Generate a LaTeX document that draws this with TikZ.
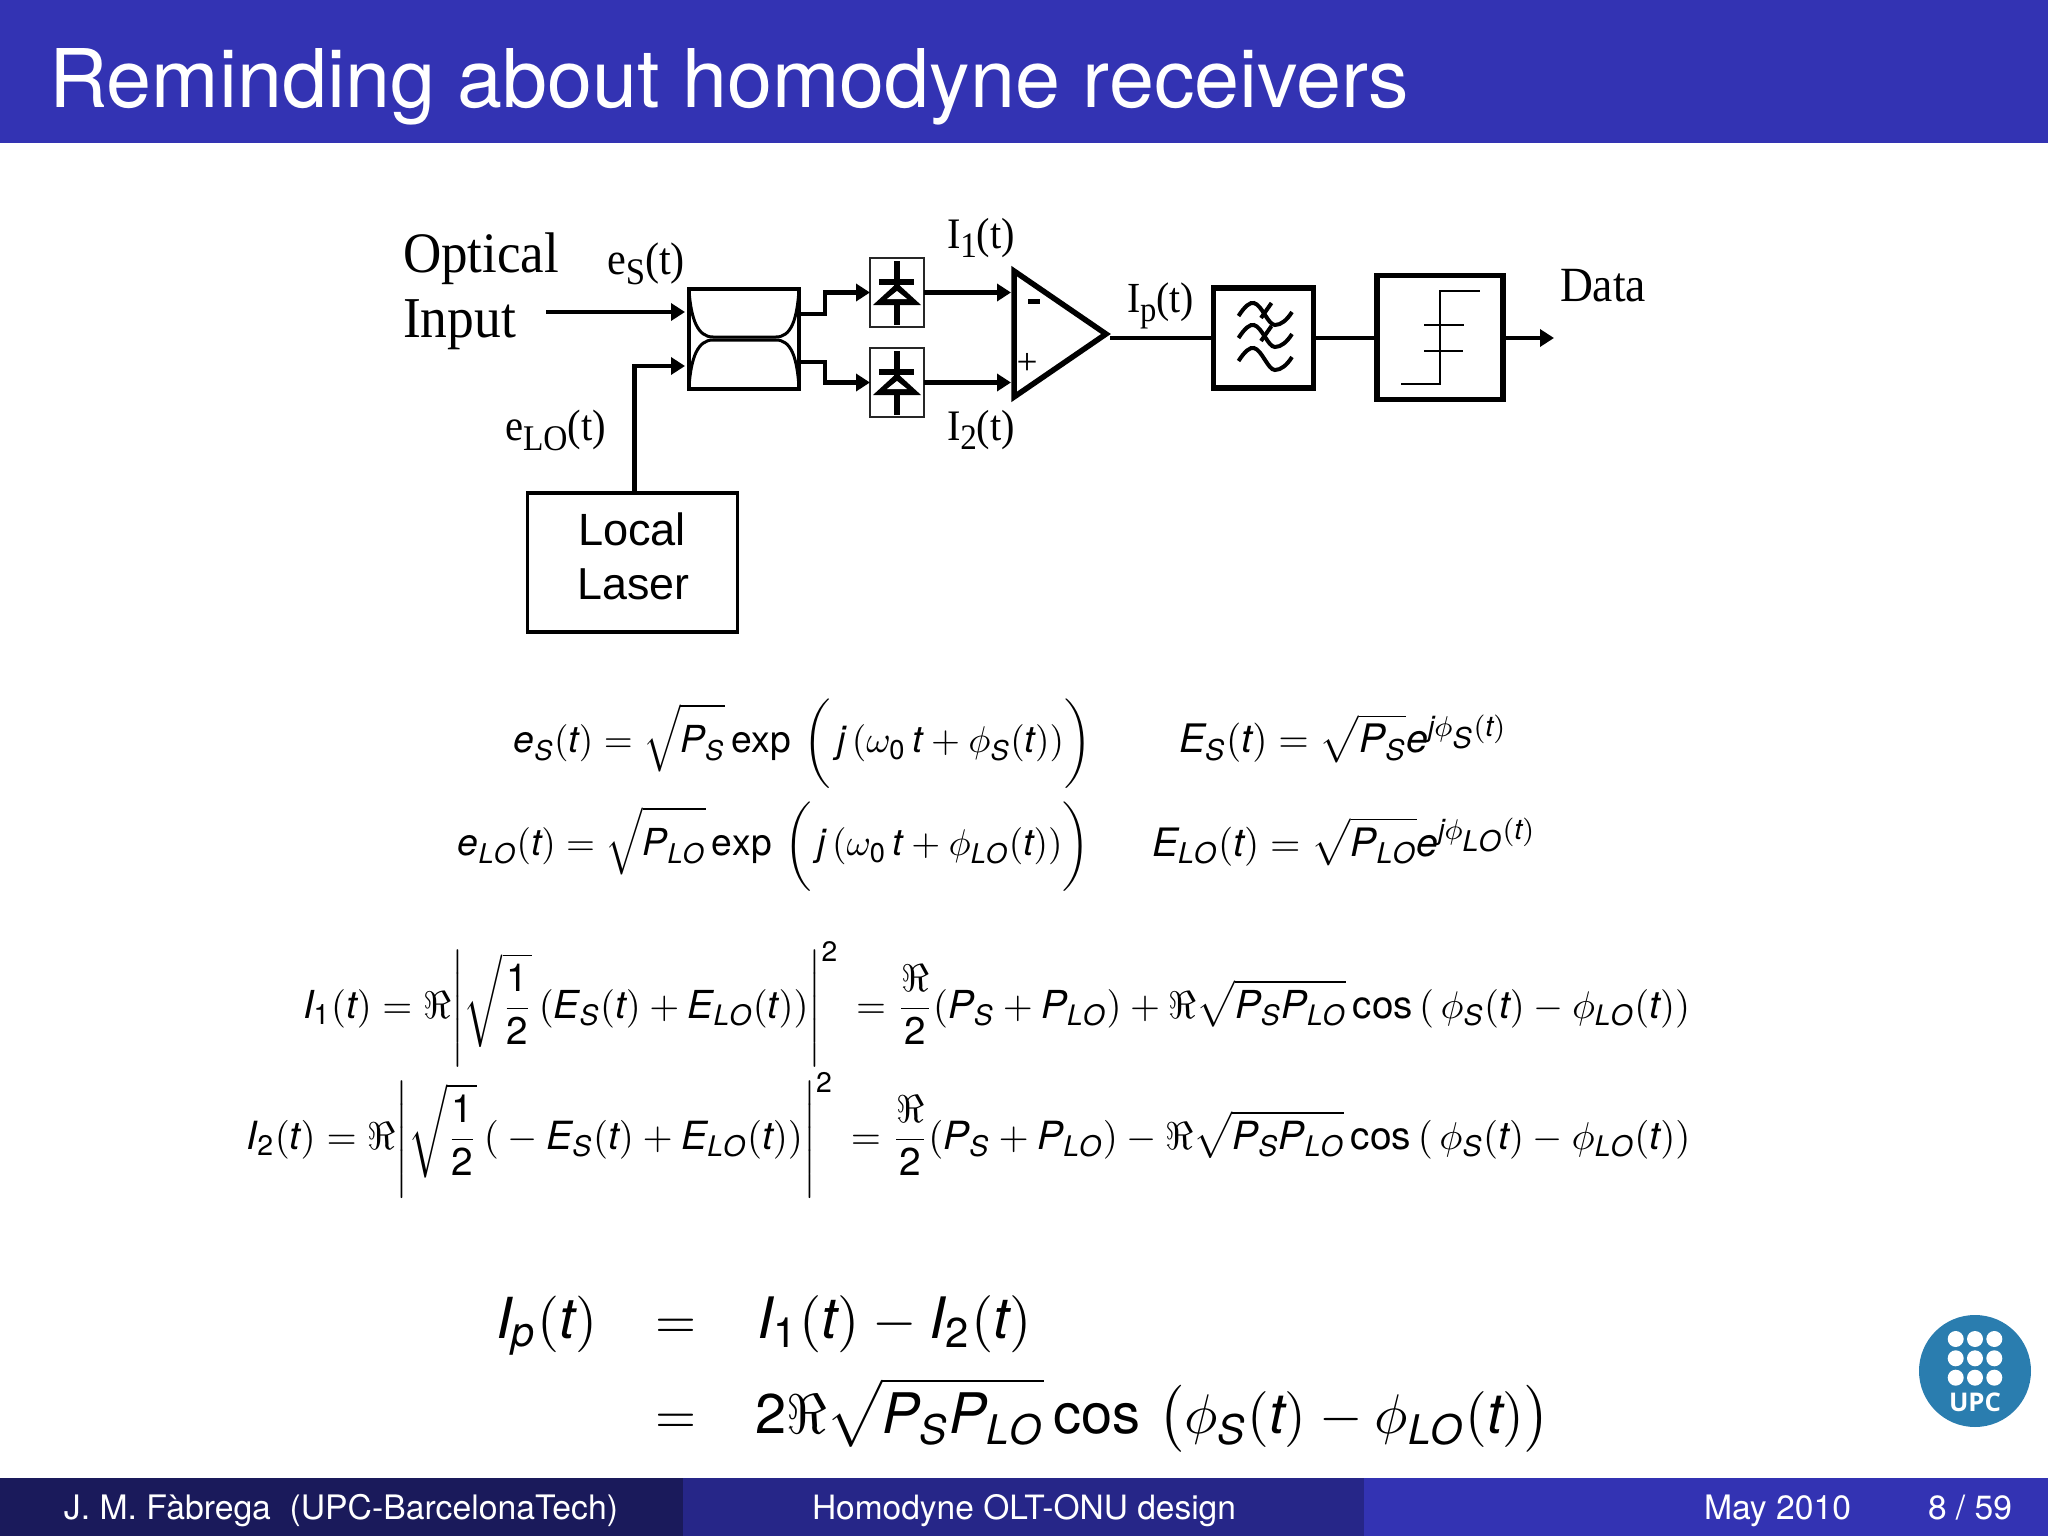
\documentclass[tikz,border=0pt,11pt]{standalone}
\usepackage{amsmath}
\usepackage[no-math]{fontspec}
\usepackage{graphicx}
\usetikzlibrary{arrows.meta}
\setmainfont{TeX Gyre Heros}
\newfontfamily\serifdiag{Liberation Serif}
\newfontfamily\diagsans{Liberation Sans}
\newfontfamily\upcfont{Open Sans}
\newfontfamily\heroshv[NFSSFamily=heros]{TeX Gyre Heros}
\DeclareSymbolFont{hvit}{TU}{heros}{m}{it}
\DeclareSymbolFont{hvup}{TU}{heros}{m}{n}
\DeclareMathAlphabet{\mathhv}{TU}{heros}{m}{n}
\def\setit#1{\DeclareMathSymbol{#1}{\mathalpha}{hvit}{`#1}}
\def\setup#1{\DeclareMathSymbol{#1}{\mathalpha}{hvup}{`#1}}
\setit e \setit S \setit t \setit P \setit j \setit E \setit L \setit O \setit I \setit p
\setup 0 \setup 1 \setup 2
\newcommand{\opcos}{\mathop{\mathhv{cos}}\nolimits}
\newcommand{\opexp}{\mathop{\mathhv{exp}}\nolimits}
\newcommand{\tallsq}{\rule[-0.42em]{0pt}{1.42em}}
\newdimen\pxd \pxd=0.0625mm
\def\pxu{0.0625mm}
\newcommand{\fitw}[2]{\resizebox{#1\pxd}{!}{#2}}
\newcommand{\fitwy}[2]{\scalebox{1}[1.08]{\resizebox{#1\pxd}{!}{#2}}}
\newcommand{\subser}[1]{\raisebox{-0.5ex}{\footnotesize #1}}
\definecolor{barblue}{HTML}{3333B3}
\definecolor{footdark}{HTML}{1A1A5B}
\definecolor{footmid}{HTML}{262688}
\definecolor{upcblue}{HTML}{2A7DAF}
\tikzset{
  txt/.style={anchor=base west,inner sep=0pt,outer sep=0pt},
  wtxt/.style={txt,text=white},
  wire/.style={line width=4.4*\pxu,draw=black,-{Triangle[length=14*\pxu,width=17*\pxu]}},
  plainwire/.style={line width=4.4*\pxu,draw=black},
  blockbox/.style={draw=black,rectangle,inner sep=0pt,outer sep=0pt},
  thinline/.style={line width=2.8*\pxu,draw=black},
}
\begin{document}
\begin{tikzpicture}[x=0.0625mm,y=-0.0625mm]
\useasboundingbox (0,0) rectangle (2048,1536);
\fill[white] (0,0) rectangle (2048,1536);
% bars
\fill[barblue] (0,0) rectangle (2048,143);
\fill[barblue] (0,1478) rectangle (2048,1536);
\fill[footdark] (0,1478) rectangle (683,1536);
\fill[footmid] (683,1478) rectangle (1364,1536);
\node[wtxt] (title) at (49,107) {\fitw{1360}{Reminding about homodyne receivers}};
\node[wtxt] (fauthor) at (64,1519) {\fitw{554}{J. M. Fàbrega\ \ (UPC-BarcelonaTech)}};
\node[wtxt] (ftitle) at (812,1519) {\fitw{424}{Homodyne OLT-ONU design}};
\node[wtxt] (fdate) at (1704,1519) {\fitw{147}{May 2010}};
\node[wtxt] (fpage) at (1928,1519) {\fitw{84}{8 / 59}};
% logo
\fill[upcblue] (1975,1371) circle (56);
\foreach \cx in {1955.7,1975,1994.3}
  \foreach \cy in {1339,1358.3,1377.7}
    \fill[white] (\cx,\cy) circle (8);
\node[anchor=base,inner sep=0pt,text=white] (upc) at (1975,1411) {\fitw{52}{\upcfont\bfseries UPC}};
% diagram labels
\node[txt] (optical) at (403,272) {\fitwy{156}{\serifdiag Optical}};
\node[txt] (input) at (403,337) {\fitwy{113}{\serifdiag Input}};
\node[txt] (es) at (607,274) {\fitwy{78}{\serifdiag e\subser{S}(t)}};
\node[txt] (elo) at (505,440) {\fitwy{101}{\serifdiag e\subser{LO}(t)}};
\node[txt] (ione) at (947,248) {\fitwy{68}{\serifdiag I\subser{1}(t)}};
\node[txt] (itwo) at (947,440) {\fitwy{68}{\serifdiag I\subser{2}(t)}};
\node[txt] (ip) at (1127,312) {\fitwy{67}{\serifdiag I\subser{p}(t)}};
\node[txt] (data) at (1560,301) {\fitwy{86}{\serifdiag Data}};
% local laser
\node[blockbox,line width=3.6*\pxu,minimum width=210*\pxu,minimum height=139*\pxu] (laser) at (632.5,562.5) {};
\node[anchor=base,inner sep=0pt] (laserA) at (632,545) {\fitw{108}{\diagsans Local}};
\node[anchor=base,inner sep=0pt] (laserB) at (633.5,600) {\fitw{112}{\diagsans Laser}};
% coupler
\node[blockbox,line width=4*\pxu,minimum width=110*\pxu,minimum height=100*\pxu] (coupler) at (744,338.5) {};
\draw[line width=3*\pxu] (689,290) .. controls (691,320) and (698,337) .. (713,337) -- (776,337) .. controls (791,337) and (797,320) .. (799,290);
\draw[line width=3*\pxu] (689,387) .. controls (691,357) and (698,340) .. (713,340) -- (776,340) .. controls (791,340) and (797,357) .. (799,387);
\coordinate (cin) at (685,312);
\coordinate (cout) at (685,366);
\coordinate (cua) at (801,314);
\coordinate (cub) at (801,362);
\coordinate (inp) at (546,312);
\coordinate (lout) at (634.5,492);
% diodes
\foreach \n/\dy in {a/0,b/90}{
  \node[blockbox,line width=1.8*\pxu,draw=black!85,minimum width=54*\pxu,minimum height=69*\pxu] (diode\n) at (897,292.5+\dy) {};
  \fill[black] (894,261+\dy) rectangle (900,325+\dy);
  \fill[black] (879,279+\dy) rectangle (914,285+\dy);
  \fill[black] (897,283+\dy) -- (921,305+\dy) -- (873,305+\dy) -- cycle;
  \fill[white] (897,291+\dy) -- (907,299+\dy) -- (887,299+\dy) -- cycle;
}
% amplifier
\coordinate (ampA) at (1014,271);
\coordinate (ampB) at (1014,397);
\coordinate (ampC) at (1106,334);
\draw[line width=5.5*\pxu,line join=miter] (ampA) -- (ampC) -- (ampB) -- cycle;
\coordinate (ampm) at (1011,292.5);
\coordinate (ampp) at (1011,382.5);
\coordinate (ampo) at (1110,338);
\node[anchor=center,inner sep=0pt,outer sep=0pt] (minus) at (1034,302) {\rule{12\pxd}{5\pxd}};
\node[anchor=center,inner sep=0pt] (plus) at (1027,364) {\fitw{21}{\serifdiag +}};
% filter
\node[blockbox,line width=5.5*\pxu,minimum width=100*\pxu,minimum height=100*\pxu] (filter) at (1263.5,338) {};
\foreach \dy in {0,22,45}
  \draw[line width=4*\pxu] (1238.5,316+\dy) .. controls (1245,306+\dy) and (1250,302+\dy) .. (1254,303+\dy) .. controls (1262,305+\dy) and (1268,325+\dy) .. (1275,325+\dy) .. controls (1281,325+\dy) and (1287,320+\dy) .. (1292,312+\dy);
\foreach \dy in {0,23}
  \draw[line width=4*\pxu] (1261,318+\dy) -- (1271.5,303+\dy);
% decision
\node[blockbox,line width=5.5*\pxu,minimum width=126*\pxu,minimum height=124*\pxu] (decision) at (1440,337.5) {};
\draw[thinline] (1401,384) -- (1440,384) -- (1440,291) -- (1480,291);
\draw[thinline] (1424,325) -- (1464,325);
\draw[thinline] (1424,351) -- (1463,351);
\coordinate (dataout) at (1554,338);
% connectors
\draw[wire] (inp) -- (cin);
\draw[wire] (lout) |- (cout);
\draw[wire] (cua) -- ++(24,0) |- (diodea.west);
\draw[wire] (cub) -- ++(24,0) |- (diodeb.west);
\draw[wire] (diodea.east) -- (ampm);
\draw[wire] (diodeb.east) -- (ampp);
\draw[plainwire] (ampo) -- (filter.west);
\draw[plainwire] (filter.east) -- (decision.west |- filter.east);
\draw[wire] (decision.east |- dataout) -- (dataout);
% equations
\node[txt] (eqa) at (513.6,753) {\fitw{578}{$\displaystyle e_S(t)=\sqrt{\tallsq P_S}\opexp\,\bigg(\,j\,(\omega_0\,t+\phi_S(t))\bigg)$}};
\node[txt] (eqb) at (1179,753) {\fitw{328}{$\displaystyle E_S(t)=\sqrt{P_S}e^{j\phi_{\scriptstyle S}(t)}$}};
\node[txt] (eqc) at (458,856) {\fitw{632}{$\displaystyle e_{LO}(t)=\sqrt{\tallsq P_{LO}}\opexp\,\bigg(\,j\,(\omega_0\,t+\phi_{LO}(t))\bigg)$}};
\node[txt] (eqd) at (1152,856) {\fitw{384}{$\displaystyle E_{LO}(t)=\sqrt{P_{LO}}e^{j\phi_{\scriptstyle LO}(t)}$}};
\node[txt] (eqe) at (303,1018) {\fitw{1387}{$\displaystyle I_1(t)=\Re\Bigg|\sqrt{\frac{1}{2}}\,(E_S(t)+E_{LO}(t))\Bigg|^2\,=\frac{\Re}{2}(P_S+P_{LO})+\Re\sqrt{P_SP_{LO}}\opcos\left(\,\phi_S(t)-\phi_{LO}(t)\right)$}};
\node[txt] (eqf) at (246.5,1149) {\fitw{1444}{$\displaystyle I_2(t)=\Re\Bigg|\sqrt{\frac{1}{2}}\,({}-E_S(t)+E_{LO}(t))\Bigg|^2\,=\frac{\Re}{2}(P_S+P_{LO})-\Re\sqrt{P_SP_{LO}}\opcos\left(\,\phi_S(t)-\phi_{LO}(t)\right)$}};
\node[txt] (ipl) at (496,1338) {\fitw{101}{$\displaystyle I_p(t)$}};
\node[txt] (eqg) at (656,1338) {\fitw{41}{$=$}};
\node[txt] (ipr) at (757.6,1338) {\fitw{274}{$\displaystyle I_1(t)-I_2(t)$}};
\node[txt] (eqh) at (656,1433) {\fitw{41}{$=$}};
\node[txt] (ipq) at (755,1433) {\fitw{795}{$\displaystyle 2\Re\sqrt{P_SP_{LO}}\opcos\,\big(\phi_S(t)-\phi_{LO}(t)\big)$}};
\end{tikzpicture}
\end{document}
